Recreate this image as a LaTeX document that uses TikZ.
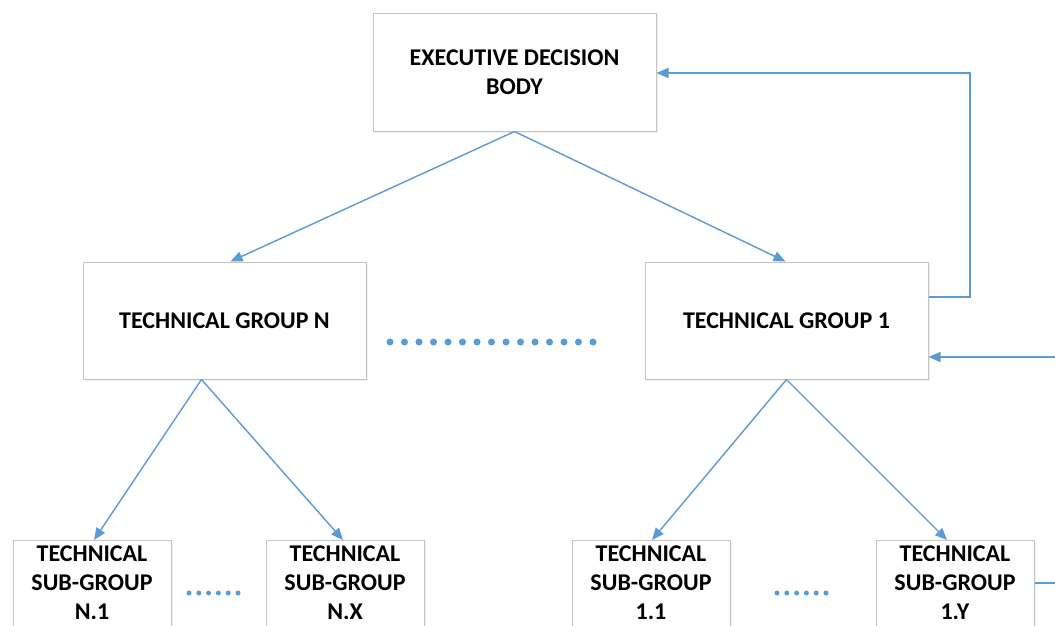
\documentclass[tikz,border=0pt]{standalone}
\usepackage{fontspec}
\setmainfont{Carlito}
\usetikzlibrary{arrows.meta,shadows}
\definecolor{lb}{HTML}{5B9BD5}
\definecolor{bx}{HTML}{C4C4C4}
\begin{document}
\begin{tikzpicture}[x=1pt,y=-1pt,
 box/.style={draw=bx,line width=1pt,fill=white,minimum width=283pt,minimum height=117pt,inner sep=0pt,
   drop shadow={opacity=0.12,shadow xshift=1.5pt,shadow yshift=-1.5pt}},
 subbox/.style={draw=bx,line width=1pt,fill=white,minimum width=158pt,minimum height=120pt,anchor=north,inner sep=0pt,
   drop shadow={opacity=0.12,shadow xshift=1.5pt,shadow yshift=-1.5pt}},
 lbl/.style={font=\bfseries\fontsize{24}{29}\selectfont,align=center},
 conn/.style={draw=lb,line width=1.4pt,-{Triangle[length=12pt,width=10pt]}},
 plain/.style={draw=lb,line width=1.4pt},
 bigdots/.style={draw=lb,line width=7pt,line cap=round,dash pattern=on 0pt off 14.5pt},
 smalldots/.style={draw=lb,line width=5pt,line cap=round,dash pattern=on 0pt off 9.8pt}]
\clip (0,0) rectangle (1055,626);
\fill[white] (0,0) rectangle (1055,626);
\node[box,lbl] (exec) at (514.5,72.5) {EXECUTIVE DECISION\\BODY};
\node[box,lbl] (tgn) at (224.5,320.5) {TECHNICAL GROUP N};
\node[box,lbl] (tg1) at (786.5,320.5) {TECHNICAL GROUP 1};
\node[subbox] (sn1) at (92,540) {};
\node[subbox] (snx) at (345,540) {};
\node[subbox] (s11) at (651,540) {};
\node[subbox] (s1y) at (955,540) {};
\node[lbl] (tn1) at (92,583) {TECHNICAL\\SUB-GROUP\\N.1};
\node[lbl] (tnx) at (345,583) {TECHNICAL\\SUB-GROUP\\N.X};
\node[lbl] (t11) at (651,583) {TECHNICAL\\SUB-GROUP\\1.1};
\node[lbl] (t1y) at (955,583) {TECHNICAL\\SUB-GROUP\\1.Y};
\draw[conn] (exec.south) -- ([xshift=6pt]tgn.north);
\draw[conn] (exec.south) -- ([xshift=-1pt]tg1.north);
\draw[conn] ([xshift=-23pt]tgn.south) -- ([xshift=2pt]sn1.north);
\draw[conn] ([xshift=-23pt]tgn.south) -- ([xshift=-2pt]snx.north);
\draw[conn] (tg1.south) -- ([xshift=1pt]s11.north);
\draw[conn] (tg1.south) -- ([xshift=-8pt]s1y.north);
\coordinate (fb) at (970,297);
\draw[conn] (tg1.east |- fb) -- (fb) -- (970,73) -- (exec.east |- 0,73);
\coordinate (in1) at (1060,357);
\draw[conn] (in1) -- (tg1.east |- in1);
\coordinate (out1) at (1060,583);
\draw[plain] (s1y.east |- out1) -- (out1);
\draw[bigdots] (390,342) -- (594,342);
\draw[smalldots] (189,593) -- (239,593);
\draw[smalldots] (777,593) -- (827,593);
\end{tikzpicture}
\end{document}
